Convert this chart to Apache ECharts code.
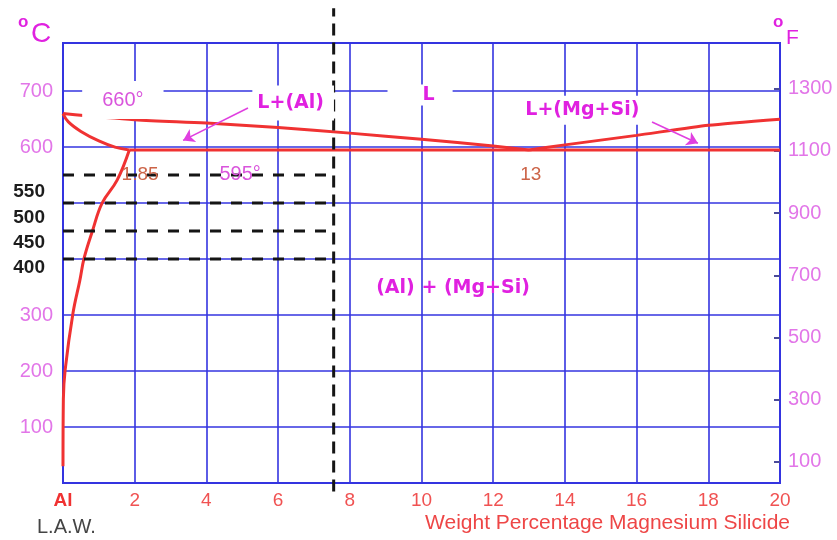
<!DOCTYPE html>
<html>
<head>
<meta charset="utf-8">
<title>Al – Mg2Si phase diagram</title>
<script src="https://cdn.jsdelivr.net/npm/echarts@6/dist/echarts.min.js"></script>
<style>
  html, body { margin: 0; padding: 0; background: #ffffff; }
  #chart { width: 837px; height: 540px; }
</style>
</head>
<body>
<div id="chart"></div>
<script>
// ---- Axis ticks ----------------------------------------------------------
const compTicksMax = 20;                       // wt.% Mg2Si, ticks every 2
const celsiusLabels = [100, 200, 300, 400, 450, 500, 550, 600, 700];
const treatTemps = [550, 500, 450, 400];        // heat-treatment levels (black labels)
const fahrenheitLabels = [100, 300, 500, 700, 900, 1100, 1300];

// ---- Phase boundaries (x = wt.% Mg2Si, T = °C) ---------------------------
const liquidusAlX = [0, 2, 4, 6, 8, 10, 12, 13];
const liquidusAlT = [660, 649, 643, 635, 625, 614, 602, 595];

const liquidusMgSiX = [13, 14, 16, 18, 20];
const liquidusMgSiT = [595, 604, 621, 639, 650];

const eutecticX = [1.85, 20];
const eutecticT = [595, 595];

const solidusX = [0, 0.15, 0.5, 1.0, 1.45, 1.85];
const solidusT = [660, 645, 628, 611, 600, 595];

const solvusX = [1.85, 1.51, 1.09, 0.81, 0.59, 0.47, 0.28, 0.06, 0.01, 0];
const solvusT = [595, 541, 500, 448, 402, 362, 304, 202, 150, 30];

// alloy composition line (runs past the frame at both ends)
const alloyX = 7.55;
const alloyT = [-15, 848];

// ---- Arrows and notes -----------------------------------------------------
const arrowFromX = [5.16, 16.43];
const arrowFromT = [670, 645];
const arrowToX = [3.35, 17.71];
const arrowToT = [612, 607];

const noteText = ['660°', 'L+(Al)', 'L', 'L+(Mg+Si)', '1.85', '595°', '13', '(Al) + (Mg+Si)'];
const noteX = [1.67, 6.42, 9.96, 14.5, 2.15, 4.94, 13.05, 10.88];
const noteT = [684, 679, 693, 666, 550, 552, 550, 348];

// ---- Styling ---------------------------------------------------------------
const BLUE = '#3434e0';
const RED = '#f03232';
const PINK = '#e276e8';
const MAGENTA = '#e021e0';
const SANS = "'Liberation Sans', Arial, sans-serif";
const BOLD_SANS = "'DejaVu Sans', Verdana, sans-serif";

const thinPink = { color: '#d955dc', fontSize: 20, fontFamily: SANS };
const phase = { color: MAGENTA, fontSize: 19, fontWeight: 'bold', fontFamily: BOLD_SANS };
const rust = { color: '#cc6448', fontSize: 19, fontFamily: SANS };

const noteStyles = {
  '660°': Object.assign({}, thinPink, { backgroundColor: '#fff', padding: [8, 20, 10, 20] }),
  'L+(Al)': Object.assign({}, phase, { backgroundColor: '#fff', padding: [8, 10, 8, 5] }),
  'L': Object.assign({}, phase, { backgroundColor: '#fff', padding: [0, 18, 2, 35] }),
  'L+(Mg+Si)': Object.assign({}, phase, { backgroundColor: '#fff', padding: [4, 8, 6, 7] }),
  '1.85': rust,
  '595°': thinPink,
  '13': rust,
  '(Al) + (Mg+Si)': phase
};

// downward nudge (px) for the black heat-treatment labels
const treatShift = { 550: 34, 500: 30, 450: 24, 400: 18 };

const pairs = (xs, ts) => xs.map((x, i) => [x, ts[i]]);

function curve(name, xs, ts, smooth) {
  return {
    type: 'line', name: name, data: pairs(xs, ts), smooth: smooth,
    symbol: 'none', clip: false, silent: true, z: 3,
    lineStyle: { color: RED, width: 3 }
  };
}

const leftRich = { p: { color: PINK, fontSize: 20, fontFamily: SANS } };
treatTemps.forEach(t => {
  leftRich['k' + t] = {
    color: '#1c1c1c', fontSize: 19, fontWeight: 'bold', fontFamily: SANS,
    padding: [treatShift[t], 8, 0, 0]
  };
});

const series = [
  curve('liquidus (Al side)', liquidusAlX, liquidusAlT, 0.3),
  curve('liquidus (Mg2Si side)', liquidusMgSiX, liquidusMgSiT, 0.2),
  curve('eutectic', eutecticX, eutecticT, false),
  curve('solidus', solidusX, solidusT, 0.4),
  curve('solvus', solvusX, solvusT, 0.4),
  {
    type: 'line', name: 'alloy', data: [[alloyX, alloyT[0]], [alloyX, alloyT[1]]],
    symbol: 'none', clip: false, silent: true, z: 4,
    lineStyle: { color: '#151515', width: 3, type: [12, 7] }
  }
];

treatTemps.forEach(t => {
  series.push({
    type: 'line', name: 'treat ' + t, data: [[0, t], [alloyX, t]],
    symbol: 'none', silent: true, z: 4,
    lineStyle: { color: '#151515', width: 3, type: [11, 10] }
  });
});

series.push({
  type: 'lines', coordinateSystem: 'cartesian2d', silent: true, z: 5,
  symbol: ['none', 'arrow'], symbolSize: [0, 11],
  lineStyle: { color: '#e040e0', width: 1.6, opacity: 1, curveness: 0 },
  data: arrowFromX.map((x, i) => ({ coords: [[x, arrowFromT[i]], [arrowToX[i], arrowToT[i]]] }))
});

series.push({
  type: 'scatter', name: 'notes', symbolSize: 0, silent: true, z: 6,
  itemStyle: { opacity: 1 },
  data: noteText.map((txt, i) => ({
    value: [noteX[i], noteT[i]],
    label: Object.assign({ show: true, position: 'inside', formatter: txt }, noteStyles[txt])
  }))
});

const option = {
  animation: false,
  backgroundColor: '#ffffff',
  grid: {
    left: 63, right: 57, top: 43, bottom: 57,
    show: true, borderColor: BLUE, borderWidth: 2
  },
  xAxis: {
    type: 'value', min: 0, max: compTicksMax, interval: 2,
    axisLine: { show: true, lineStyle: { color: BLUE, width: 2 } },
    axisTick: { show: false },
    splitLine: { show: true, lineStyle: { color: BLUE, width: 1.6 } },
    axisLabel: {
      margin: 8,
      formatter: v => v === 0 ? '{al|Al}' : '{n|' + v + '}',
      rich: {
        al: { color: RED, fontSize: 19, fontWeight: 'bold', fontFamily: SANS },
        n: { color: '#f05252', fontSize: 19, fontFamily: SANS }
      }
    }
  },
  yAxis: [
    {
      type: 'value', min: 0, max: 786, interval: 100,
      axisLine: { show: true, lineStyle: { color: BLUE, width: 2 } },
      axisTick: { show: false },
      splitLine: { show: true, lineStyle: { color: BLUE, width: 1.6 } },
      axisLabel: {
        customValues: celsiusLabels, margin: 10,
        formatter: v => treatTemps.indexOf(v) >= 0 ? '{k' + v + '|' + v + '}' : '{p|' + v + '}',
        rich: leftRich
      }
    },
    {
      type: 'value', position: 'right', min: 32, max: 786 * 1.8 + 32,
      axisLine: { show: true, lineStyle: { color: BLUE, width: 2 } },
      axisTick: {
        show: true, inside: true, length: 6, customValues: fahrenheitLabels,
        lineStyle: { color: '#4a4a9a', width: 2 }
      },
      splitLine: { show: false },
      axisLabel: {
        customValues: fahrenheitLabels, margin: 8,
        formatter: v => String(v),
        color: PINK, fontSize: 20, fontFamily: SANS
      }
    }
  ],
  graphic: [
    { type: 'text', left: 18, top: 14, style: { text: 'o', fill: MAGENTA, font: "bold 17px " + SANS } },
    { type: 'text', left: 31, top: 20, style: { text: 'C', fill: MAGENTA, font: "28px " + SANS } },
    { type: 'text', left: 773, top: 14, style: { text: 'o', fill: MAGENTA, font: "bold 17px " + SANS } },
    { type: 'text', left: 786, top: 28, style: { text: 'F', fill: MAGENTA, font: "21px " + SANS } },
    { type: 'text', left: 37, top: 517, style: { text: 'L.A.W.', fill: '#444444', font: "20px " + SANS } },
    {
      type: 'text', right: 47, top: 513,
      style: { text: 'Weight Percentage Magnesium Silicide', fill: '#ee4646', font: "21px " + SANS }
    }
  ],
  series: series
};

const chart = echarts.init(document.getElementById('chart'));
chart.setOption(option);
</script>
</body>
</html>
